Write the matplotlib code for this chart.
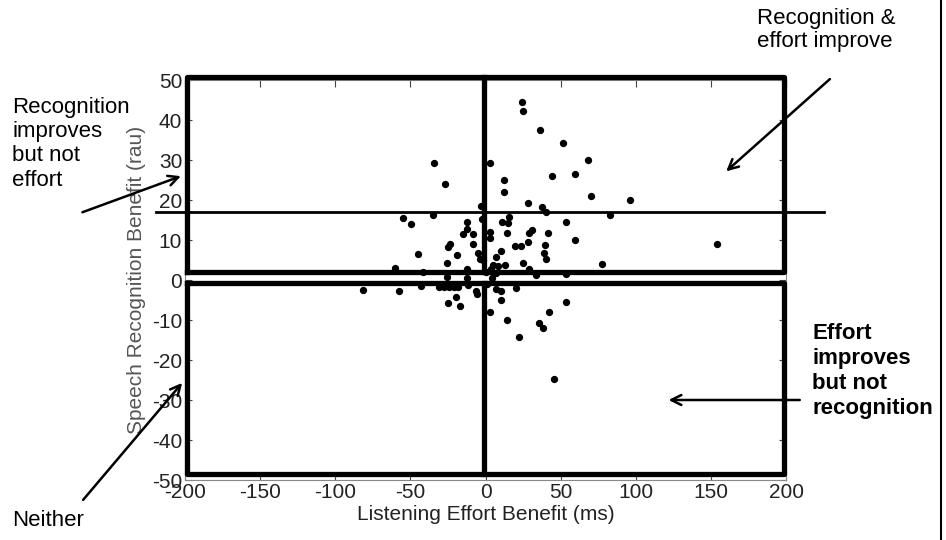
import numpy as np
import matplotlib.pyplot as plt
from matplotlib.lines import Line2D

plt.rcParams['font.family'] = ['Liberation Sans', 'DejaVu Sans']
plt.rcParams['axes.unicode_minus'] = False

# listening effort benefit (ms) vs speech recognition benefit (rau)
effort = [24.1, 24.8, 36.5, 51.8, 68.2, -34.5, 2.8, -27.1, 12, 12, 44.5, 59.8, 70.4, 96.3,
          28.6, 37.9, 40.3, -2.7, 83,
          -55, -49.8, -35.2, -2, -12.2, -15.3, -12.2, -8.4, -25.2, -23.7, -8.6, -45, -18.8,
          -4.7, -3.5, -1.5, -60.5, -41.5, -25.4, -12,
          15.9, 11.1, 14.8, 53.8, 2.7, 2.7, 14, 28.8, 30.8, 41.9, 59.8, 28.6, 39.9, 19.9,
          23.5, 10.2, 7.1, 39.2, 40.5, 153.9, 77.5, 24.7, 4.9, 8, 13, 29.2, 33.7, 53.8,
          7.1, 3.7, 0.5,
          -25.5, -12.6, -81.7, -57.8, -43.2, -31.2, -27.6, -24, -20.8, -18.6, -11.7, -25,
          -19.7, -17.3, -6.6, -5.5, 2.8, 7.3, 10.5, 10.6, 14.1, 20, 22.6, 35.9, 38, 42.5,
          53.7, 45.8, 1, 4]
recog = [44.5, 42.3, 37.5, 34.3, 30, 29.3, 29.3, 24.1, 25, 22, 26, 26.5, 21, 20,
         19.3, 18.3, 17, 18.5, 16.25,
         15.5, 14, 16.2, 15.3, 14.6, 11.6, 12.7, 11.6, 8.3, 8.9, 9, 6.6, 6.25,
         6.7, 5.2, 5, 3, 2, 4.2, 2.8,
         15.8, 14.4, 14.2, 14.5, 12.1, 10.4, 11.75, 11.75, 12.5, 11.75, 10, 9.4, 8.75, 8.6,
         8.6, 7.25, 5.8, 6.7, 5.2, 9, 4, 4.3, 3.75, 3.5, 3.75, 2.8, 1.3, 1.4,
         1.8, 2.7, 2,
         0.7, 0.4, -2.5, -2.75, -1.4, -1.75, -1.75, -1.75, -1.75, -1.75, -1.2, -5.75,
         -4.3, -6.5, -2.7, -3.5, -7.9, -2.2, -2.7, -5, -10, -2, -14.2, -10.8, -12, -8,
         -5.4, -24.7, -1, 0.5]

xticks = list(range(-200, 201, 50))
yticks = list(range(-50, 51, 10))

W, H = 946, 540
fig = plt.figure(figsize=(W / 100, H / 100), dpi=100)
ax = fig.add_axes([185 / W, 1 - 480 / H, 601 / W, 400 / H])

ax.set_xlim(-200, 200)
ax.set_ylim(-50, 50)
ax.set_xticks(xticks)
ax.set_yticks(yticks)
ax.tick_params(direction='in', top=True, right=True, length=5, width=0.8,
               labelsize=15, labelcolor='#222', color='#444', pad=2)
for s in ax.spines.values():
    s.set_color('#888')
    s.set_linewidth(0.8)
ax.set_xlabel('Listening Effort Benefit (ms)', fontsize=15, color='#222', labelpad=2)
ax.set_ylabel('Speech Recognition Benefit (rau)', fontsize=15, color='#555', labelpad=4)

# quadrant boxes
lw = 3.8
kw = dict(color='black', lw=lw, clip_on=False, solid_capstyle='projecting', zorder=3)
ax.plot([-199, 199, 199, -199, -199], [2, 2, 50.7, 50.7, 2], **kw)
ax.plot([-1, -1], [2, 50.7], **kw)
ax.plot([-199, 199, 199, -199, -199], [-0.7, -0.7, -48.5, -48.5, -0.7], **kw)
ax.plot([-1, -1], [-0.7, -48.5], **kw)
ax.plot([-219, 225], [17, 17], color='black', lw=2, clip_on=False, zorder=3)

ax.scatter(effort, recog, s=18, color='black', zorder=4, clip_on=False)

# annotations
akw = dict(arrowstyle='->', color='black', lw=1.8, mutation_scale=18)
ax.annotate('', xy=(-201, 26.2), xytext=(-270, 16.7), arrowprops=akw, annotation_clip=False)
ax.annotate('', xy=(158.8, 26.7), xytext=(230.6, 50.7), arrowprops=akw, annotation_clip=False)
ax.annotate('', xy=(120, -30), xytext=(211, -30), arrowprops=akw, annotation_clip=False)
ax.annotate('', xy=(-200.7, -25.2), xytext=(-269, -55.5), arrowprops=akw, annotation_clip=False)

fig.text(12 / W, 1 - 97 / H, 'Recognition\nimproves\nbut not\neffort', fontsize=16,
         va='top', ha='left', linespacing=1.2)
fig.text(757 / W, 1 - 8 / H, 'Recognition &\neffort improve', fontsize=16,
         va='top', ha='left', linespacing=1.15)
fig.text(812 / W, 1 - 323 / H, 'Effort\nimproves\nbut not\nrecognition', fontsize=16,
         fontweight='bold', va='top', ha='left', linespacing=1.25)
fig.text(12 / W, 1 - 510 / H, 'Neither', fontsize=16, va='top', ha='left')

fig.add_artist(Line2D([941 / W, 941 / W], [0, 1], color='black', lw=1.5))

fig.savefig('out.png', dpi=100)
